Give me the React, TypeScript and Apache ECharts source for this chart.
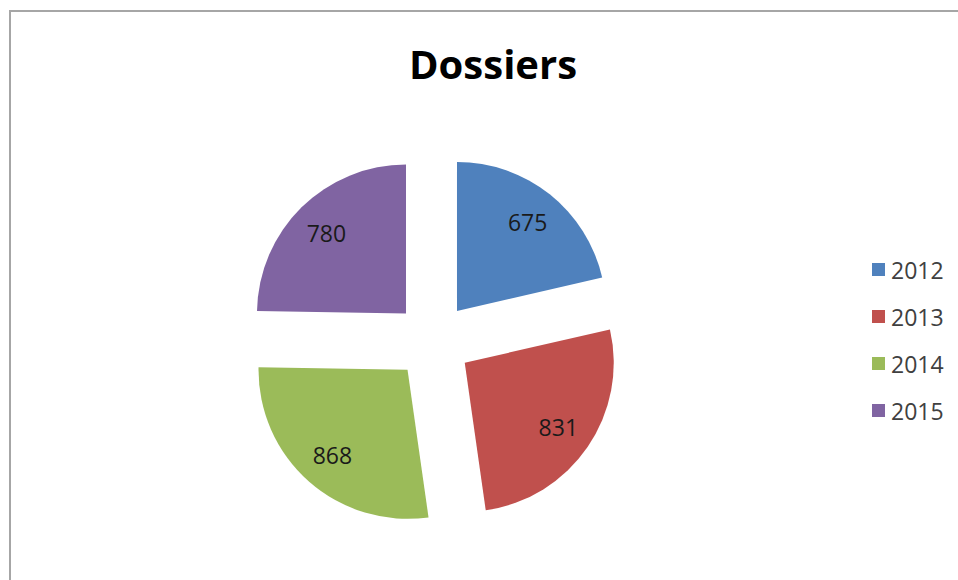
import React, { useEffect, useRef } from "react";
import * as echarts from "echarts";

const categories = ["2012", "2013", "2014", "2015"];
const values = [675, 831, 868, 780];
const colors = ["#4f81bd", "#c0504d", "#9bbb59", "#8064a2"];
const titleText = "Dossiers";

export default function App() {
  const ref = useRef<HTMLDivElement>(null);
  useEffect(() => {
    if (!ref.current) return;
    const chart = echarts.init(ref.current, null, { renderer: "svg" });
    const font = '"Open Sans", "Liberation Sans", sans-serif';
    const data = categories.map((c, i) => ({
      name: c,
      value: values[i],
      selected: true,
      itemStyle: { color: colors[i] },
    }));
    const labelData = categories.map((c, i) => ({
      name: c,
      value: values[i],
      selected: true,
    }));
    const center = [433, 341];
    chart.setOption({
      animation: false,
      backgroundColor: "#ffffff",
      title: {
        text: titleText,
        left: 488,
        top: 38,
        textAlign: "center",
        textStyle: { fontFamily: font, fontWeight: "bold", fontSize: 40, color: "#000000" },
      },
      legend: {
        orient: "vertical",
        left: 867,
        top: 253,
        itemWidth: 13,
        itemHeight: 13,
        itemGap: 24,
        icon: "rect",
        selectedMode: false,
        data: categories.map((c, i) => ({ name: c, itemStyle: { color: colors[i] } })),
        textStyle: { fontFamily: font, fontSize: 23, color: "#404040", padding: [0, 0, 0, 1] },
      },
      graphic: [
        {
          type: "rect",
          shape: { x: 10, y: 11, width: 1200, height: 800 },
          style: { fill: "none", stroke: "#a6a6a6", lineWidth: 2 },
          silent: true,
        },
      ],
      series: [
        {
          type: "pie",
          center,
          radius: [0, 149],
          startAngle: 90,
          clockwise: true,
          selectedMode: "multiple",
          selectedOffset: 38.5,
          avoidLabelOverlap: false,
          label: { show: false },
          labelLine: { show: false },
          emphasis: { disabled: true },
          itemStyle: { borderWidth: 0 },
          data,
        },
        {
          type: "pie",
          center,
          radius: [72, 149],
          startAngle: 90,
          clockwise: true,
          selectedMode: "multiple",
          selectedOffset: 38.5,
          avoidLabelOverlap: false,
          silent: true,
          legendHoverLink: false,
          itemStyle: { color: "rgba(0,0,0,0)", borderWidth: 0 },
          label: {
            show: true,
            position: "inside",
            formatter: "{c}",
            fontFamily: font,
            fontSize: 23,
            color: "#1a1a1a",
            offset: [0, 3],
          },
          labelLine: { show: false },
          emphasis: { disabled: true },
          data: labelData,
        },
      ],
    });
    return () => chart.dispose();
  }, []);
  return (
    <div
      ref={ref}
      style={{ position: "absolute", left: 0, top: 0, width: 958, height: 580 }}
    />
  );
}
